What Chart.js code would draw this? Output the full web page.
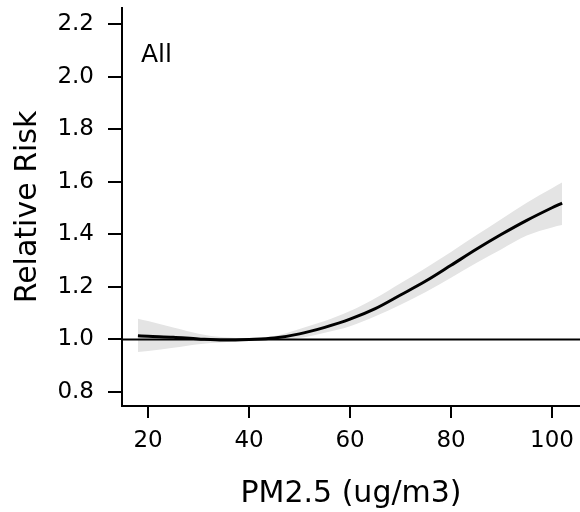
<!DOCTYPE html>
<html>
<head>
<meta charset="utf-8">
<script src="https://cdn.jsdelivr.net/npm/chart.js@4/dist/chart.umd.min.js"></script>
<style>
  html, body { margin: 0; padding: 0; background: #ffffff; }
  #wrap { width: 580px; height: 512px; position: relative; }
</style>
</head>
<body>
<div id="wrap"><canvas id="c"></canvas></div>
<script>
// ---- data ----
const pm25 = [18, 20, 25, 30, 35, 40, 45, 50, 55, 60, 65, 70, 75, 80, 85, 90, 95, 100, 102];
const rr = [1.014, 1.012, 1.008, 1.002, 0.998, 1.000, 1.005, 1.021, 1.046, 1.077, 1.117, 1.169, 1.222, 1.282, 1.343, 1.400, 1.453, 1.501, 1.519];
const rrUpper = [1.079, 1.070, 1.045, 1.022, 1.008, 1.004, 1.013, 1.040, 1.070, 1.108, 1.157, 1.214, 1.272, 1.333, 1.396, 1.458, 1.520, 1.575, 1.597];
const rrLower = [0.952, 0.956, 0.968, 0.982, 0.989, 0.996, 0.998, 1.005, 1.025, 1.050, 1.088, 1.132, 1.180, 1.235, 1.291, 1.343, 1.395, 1.426, 1.435];
const xTicks = [20, 40, 60, 80, 100];
const yTicks = [0.8, 1.0, 1.2, 1.4, 1.6, 1.8, 2.0, 2.2];
const xRange = [14.85, 105.54];
const yRange = [0.7467, 2.261];
const refValue = 1.0;
const panelLabel = 'All';
const xTitle = 'PM2.5 (ug/m3)';
const yTitle = 'Relative Risk';

const toXY = (ys) => pm25.map((x, i) => ({ x: x, y: ys[i] }));
const FONT = 'DejaVu Sans';

const panelLabelPlugin = {
  id: 'panelLabel',
  afterDatasetsDraw(chart) {
    const { ctx, chartArea } = chart;
    ctx.save();
    ctx.font = '25px "' + FONT + '"';
    ctx.fillStyle = '#000';
    ctx.textAlign = 'left';
    ctx.textBaseline = 'middle';
    ctx.fillText(panelLabel, chartArea.left + 19, chartArea.top + 47);
    ctx.restore();
  }
};

new Chart(document.getElementById('c'), {
  type: 'line',
  data: {
    datasets: [
      {
        label: 'upper',
        data: toXY(rrUpper),
        borderWidth: 0,
        borderColor: 'rgba(0,0,0,0)',
        backgroundColor: '#e4e4e4',
        pointRadius: 0,
        fill: '+1',
        cubicInterpolationMode: 'monotone',
        order: 3
      },
      {
        label: 'lower',
        data: toXY(rrLower),
        borderWidth: 0,
        borderColor: 'rgba(0,0,0,0)',
        pointRadius: 0,
        fill: false,
        cubicInterpolationMode: 'monotone',
        order: 3
      },
      {
        label: 'ref',
        data: [{ x: xRange[0], y: refValue }, { x: xRange[1], y: refValue }],
        borderColor: '#000',
        borderWidth: 2,
        pointRadius: 0,
        fill: false,
        order: 2
      },
      {
        label: 'RR',
        data: toXY(rr),
        borderColor: '#000',
        borderWidth: 3,
        pointRadius: 0,
        fill: false,
        cubicInterpolationMode: 'monotone',
        order: 1
      }
    ]
  },
  options: {
    responsive: true,
    maintainAspectRatio: false,
    animation: false,
    events: [],
    layout: { padding: { top: 8, right: 0, bottom: 0, left: 0 } },
    plugins: {
      legend: { display: false },
      tooltip: { enabled: false },
      title: { display: false }
    },
    scales: {
      x: {
        type: 'linear',
        min: xRange[0],
        max: xRange[1],
        afterBuildTicks: (s) => { s.ticks = xTicks.map(v => ({ value: v })); },
        afterFit: (s) => { s.height = 106; s.paddingLeft = 0; s.paddingRight = 0; },
        ticks: {
          color: '#000',
          font: { family: FONT, size: 23 },
          padding: 9,
          maxRotation: 0,
          autoSkip: false,
          callback: (v) => String(v)
        },
        grid: { drawOnChartArea: false, drawTicks: true, tickLength: 12, color: '#000', lineWidth: 2 },
        border: { display: true, color: '#000', width: 2 },
        title: {
          display: true,
          text: xTitle,
          color: '#000',
          font: { family: FONT, size: 30 },
          padding: { top: 0, bottom: 0 }
        }
      },
      y: {
        type: 'linear',
        min: yRange[0],
        max: yRange[1],
        afterBuildTicks: (s) => { s.ticks = yTicks.map(v => ({ value: v })); },
        afterFit: (s) => { s.width = 122; s.paddingTop = 0; s.paddingBottom = 0; },
        ticks: {
          color: '#000',
          font: { family: FONT, size: 23 },
          padding: 14,
          autoSkip: false,
          callback: (v) => Number(v).toFixed(1)
        },
        grid: { drawOnChartArea: false, drawTicks: true, tickLength: 14, color: '#000', lineWidth: 2 },
        border: { display: true, color: '#000', width: 2 },
        title: {
          display: true,
          text: yTitle,
          color: '#000',
          font: { family: FONT, size: 30 },
          padding: { top: 10, bottom: 0 }
        }
      }
    }
  },
  plugins: [panelLabelPlugin]
});
</script>
</body>
</html>
